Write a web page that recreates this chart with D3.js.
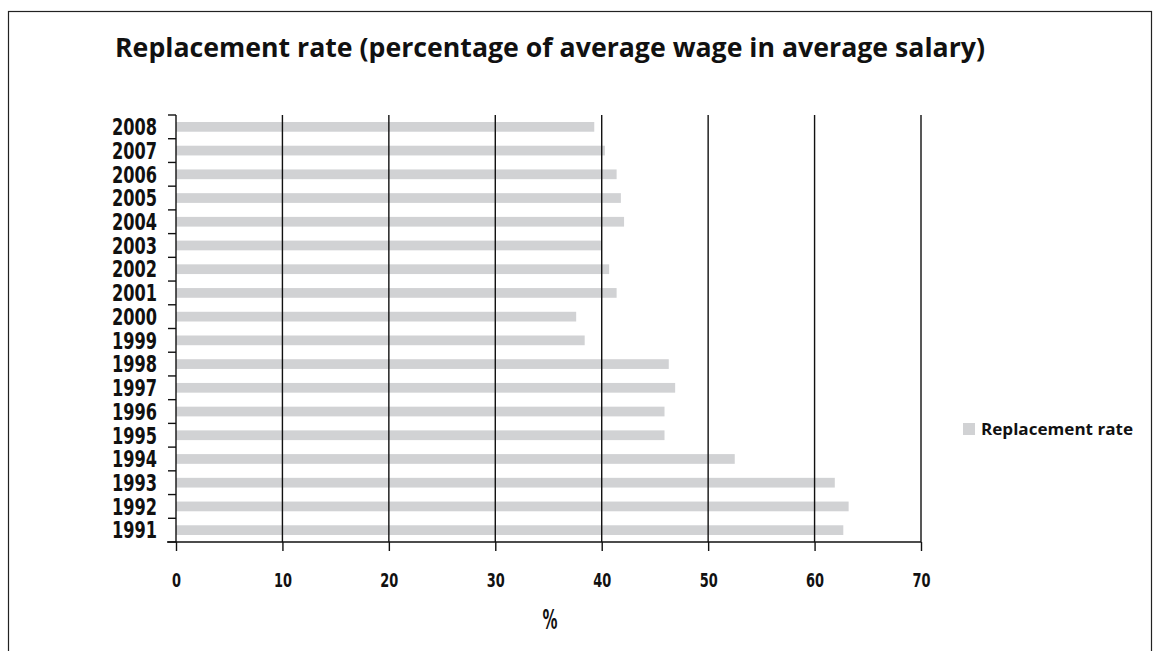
<!DOCTYPE html>
<html>
<head>
<meta charset="utf-8">
<script src="https://cdn.jsdelivr.net/npm/d3@7"></script>
<style>
  html, body { margin: 0; padding: 0; background: #fff; }
  svg { display: block; }
  .cond { font-family: 'Liberation Sans Narrow', 'DejaVu Sans Condensed', 'Liberation Sans', sans-serif; font-weight: bold; font-stretch: condensed; }
  .sans { font-family: 'Open Sans', 'Noto Sans', 'DejaVu Sans', sans-serif; font-weight: bold; }
</style>
</head>
<body>
<script>
// Replacement rate by year, in percent
const years = ["1991","1992","1993","1994","1995","1996","1997","1998","1999","2000",
               "2001","2002","2003","2004","2005","2006","2007","2008"];
const replacementRate = [62.7, 63.2, 61.9, 52.5, 45.9, 45.9, 46.9, 46.3, 38.4, 37.6,
                         41.4, 40.7, 40.0, 42.1, 41.8, 41.4, 40.3, 39.3];
const xTicks = [0, 10, 20, 30, 40, 50, 60, 70];
const titleText = "Replacement rate (percentage of average wage in average salary)";
const seriesName = "Replacement rate";
const xAxisTitle = "%";

const W = 1160, H = 651;
const svg = d3.select("body").append("svg").attr("width", W).attr("height", H);

// outer frame
svg.append("rect")
  .attr("x", 8.5).attr("y", 11.5)
  .attr("width", 1143).attr("height", 700)
  .attr("fill", "none").attr("stroke", "#222").attr("stroke-width", 1.2);

svg.append("text").attr("class", "sans")
  .attr("x", 115).attr("y", 57)
  .attr("font-size", 27)
  .attr("textLength", 870).attr("lengthAdjust", "spacingAndGlyphs")
  .attr("fill", "#111")
  .text(titleText);

const x = d3.scaleLinear().domain([0, 70]).range([176, 921]);
const y = d3.scaleBand().domain(years).range([542, 115])
  .paddingInner(0.59).paddingOuter(0.295);

const data = years.map((yr, i) => ({ year: yr, value: replacementRate[i] }));

// bars
svg.append("g").selectAll("rect").data(data).join("rect")
  .attr("x", x(0))
  .attr("y", d => y(d.year))
  .attr("width", d => x(d.value) - x(0))
  .attr("height", y.bandwidth())
  .attr("fill", "#d1d2d4");

// vertical gridlines
svg.append("g").selectAll("line").data(xTicks.slice(1)).join("line")
  .attr("x1", d => x(d)).attr("x2", d => x(d))
  .attr("y1", 115).attr("y2", 542)
  .attr("stroke", "#111").attr("stroke-width", 1.4);

// x axis
const xAxis = svg.append("g").attr("transform", "translate(0,542)")
  .call(d3.axisBottom(x).tickValues(xTicks).tickSize(9).tickPadding(23).tickFormat(d3.format("d")));
xAxis.select(".domain").remove();
xAxis.selectAll(".tick line").attr("stroke", "#111").attr("stroke-width", 1.4);
xAxis.selectAll(".tick text")
  .attr("class", "cond").attr("font-size", 19).attr("fill", "#111")
  .attr("textLength", d => String(d).length * 9)
  .attr("lengthAdjust", "spacingAndGlyphs");
svg.append("line")
  .attr("x1", 167).attr("x2", x(70))
  .attr("y1", 542).attr("y2", 542)
  .attr("stroke", "#111").attr("stroke-width", 1.4);

// y axis line and ticks on band boundaries
svg.append("line")
  .attr("x1", x(0)).attr("x2", x(0)).attr("y1", 115).attr("y2", 542)
  .attr("stroke", "#111").attr("stroke-width", 1.4);
const step = y.step();
const boundaries = years.map(yr => y(yr) - (step - y.bandwidth()) / 2 + step);
boundaries.push(115);
svg.append("g").selectAll("line").data(boundaries).join("line")
  .attr("x1", x(0) - 8).attr("x2", x(0))
  .attr("y1", d => d).attr("y2", d => d)
  .attr("stroke", "#111").attr("stroke-width", 1.4);

// year labels
svg.append("g").selectAll("text").data(data).join("text")
  .attr("class", "cond")
  .attr("x", 157)
  .attr("y", d => y(d.year) + y.bandwidth() / 2)
  .attr("dy", "0.36em")
  .attr("text-anchor", "end")
  .attr("font-size", 23)
  .attr("textLength", 45).attr("lengthAdjust", "spacingAndGlyphs")
  .attr("fill", "#111")
  .text(d => d.year);

// axis title
svg.append("text").attr("class", "cond")
  .attr("x", 550).attr("y", 629)
  .attr("text-anchor", "middle")
  .attr("font-size", 26).attr("fill", "#111")
  .attr("textLength", 15).attr("lengthAdjust", "spacingAndGlyphs")
  .text(xAxisTitle);

// legend
svg.append("rect").attr("x", 963).attr("y", 423).attr("width", 12).attr("height", 12).attr("fill", "#d1d2d4");
svg.append("text").attr("class", "sans")
  .attr("x", 981).attr("y", 435)
  .attr("font-size", 16)
  .attr("textLength", 152).attr("lengthAdjust", "spacingAndGlyphs")
  .attr("fill", "#111")
  .text(seriesName);
</script>
</body>
</html>
